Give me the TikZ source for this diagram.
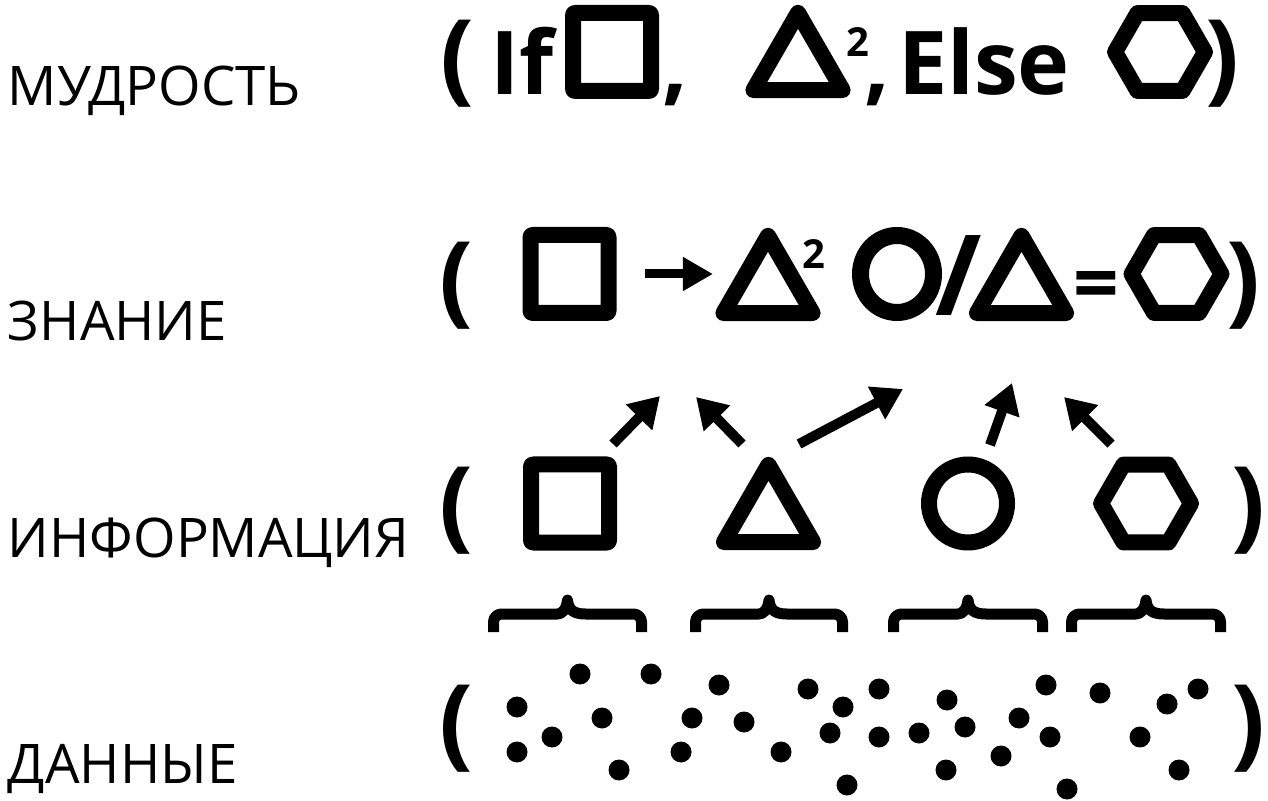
\documentclass[tikz,border=0pt]{standalone}
\usepackage{fontspec}
\setmainfont{Open Sans}
\usetikzlibrary{arrows.meta, shapes.geometric}

\begin{document}
\begin{tikzpicture}[x=0.5pt, y=-0.5pt,
  every node/.style={inner sep=0pt, outer sep=0pt},
  lbl/.style={anchor=base west, font=\fontsize{27.3}{30}\selectfont},
  sym/.style={anchor=base west, font=\bfseries\fontsize{44}{50}\selectfont},
  par/.style={font=\bfseries\fontsize{50}{54}\selectfont},
  pow/.style={font=\bfseries\fontsize{20}{24}\selectfont},
  sq/.style={draw, line width=8pt, line join=round, rounded corners=1pt, minimum size=39pt},
  tri/.style={draw, regular polygon, regular polygon sides=3, line width=8pt, line join=round, minimum size=51.5pt},
  hex/.style={draw, regular polygon, regular polygon sides=6, line width=8pt, line join=round, minimum size=45pt},
  ring/.style={draw, circle, line width=8pt, minimum size=39pt},
  oval/.style={draw, ellipse, line width=8.5pt, minimum width=36.5pt, minimum height=38.5pt},
  fat/.style={line width=5pt, -{Triangle[length=15pt, width=17.5pt]}},
  brc/.style={line width=5.5pt, line join=round}]
 \useasboundingbox (0,0) rectangle (1268,801);

 % row labels
 \node[lbl] (wis)  at (8,106) {МУДРОСТЬ};
 \node[lbl] (know) at (8,341) {ЗНАНИЕ};
 \node[lbl] (info) at (8,558) {ИНФОРМАЦИЯ};
 \node[lbl] (data) at (8,783) {ДАННЫЕ};

 % wisdom
 \node[par] (lp1) at (457.5,63.5) {(};
 \node[sym] (if1) at (490,95) {If};
 \node[sq]  (sq1) at (612,52) {};
 \node[sym] (cm1) at (662,95) {,};
 \node[tri] (tri1) at (798,64.3) {};
 \node[pow] (pw1) at (858,42.5) {2};
 \node[sym] (cm2) at (864,95) {,};
 \node[sym] (else1) at (898,95) {Else};
 \node[hex] (hex1) at (1160,52) {};
 \node[par] (rp1) at (1222,63.5) {)};

 % knowledge
 \node[par] (lp2) at (456.5,286) {(};
 \node[sq]  (sq2) at (569.5,274) {};
 \node[tri] (tri2) at (768,287.3) {};
 \node[pow] (pw2) at (814,254) {2};
 \node[oval] (ov2) at (897,274) {};
 \node[font=\bfseries\fontsize{56}{60}\selectfont] (sl2) at (959,275.5) {/};
 \node[tri] (tri2b) at (1021.5,287.3) {};
 \node[font=\bfseries\fontsize{40}{44}\selectfont] (eq2) at (1096,291.5) {=};
 \node[hex] (hex2) at (1176.5,274) {};
 \node[par] (rp2) at (1243,286) {)};
 \draw[line width=4.5pt, -{Triangle[length=15pt, width=16pt]}, shorten <=18.25pt, shorten >=12.65pt]
   (sq2.east) -- (sq2.east -| tri2.west);

 % information
 \node[par]  (lp3) at (456.5,510.5) {(};
 \node[sq]   (sq3) at (570,503.5) {};
 \node[tri]  (tri3) at (768.5,516.3) {};
 \node[ring] (ring3) at (968,503.5) {};
 \node[hex]  (hex3) at (1146,503.5) {};
 \node[par]  (rp3) at (1248,510.5) {)};
 \foreach \n/\tx/\ty/\hx/\hy in {1/613/444/660/396, 2/742/444/696/397, 3/799/444/903/389,
                                 4/990/445/1012/383, 5/1111/444/1064/397}{
   \coordinate (t\n) at (\tx,\ty);
   \coordinate (h\n) at (\hx,\hy);
   \draw[fat] (t\n) -- (h\n);
 }

 % braces
 \foreach \l/\r in {493.5/641.5, 695.5/842.5, 893.5/1042.5, 1071.5/1220.5}
   \draw[brc] (\l,632) [rounded corners=4pt] |- ({(\l+\r)/2-18},614) [sharp corners]
     .. controls ({(\l+\r)/2-6},614) and ({(\l+\r)/2-1},610) .. ({(\l+\r)/2},600)
     .. controls ({(\l+\r)/2+1},610) and ({(\l+\r)/2+6},614) .. ({(\l+\r)/2+18},614)
     [rounded corners=4pt] -| (\r,632);

 % data
 \node[par] (lp4) at (456.5,728.5) {(};
 \node[par] (rp4) at (1248,728.5) {)};
 \foreach \x/\y in {580/674, 651/674, 517/707, 602/718, 552/737, 517/752, 619/770,
                    719/685, 692/718, 744/722, 681/752, 808/689, 843/707, 830/733, 781/752, 847/785,
                    879/689, 879/737, 947/700, 919/733, 965/727, 946/770, 1019/718, 1046/685,
                    1050/737, 1001/756, 1067/789, 1100/693, 1167/704, 1198/689, 1140/737, 1179/770}
   \fill (\x,\y) circle[radius=5.25pt];
\end{tikzpicture}
\end{document}
